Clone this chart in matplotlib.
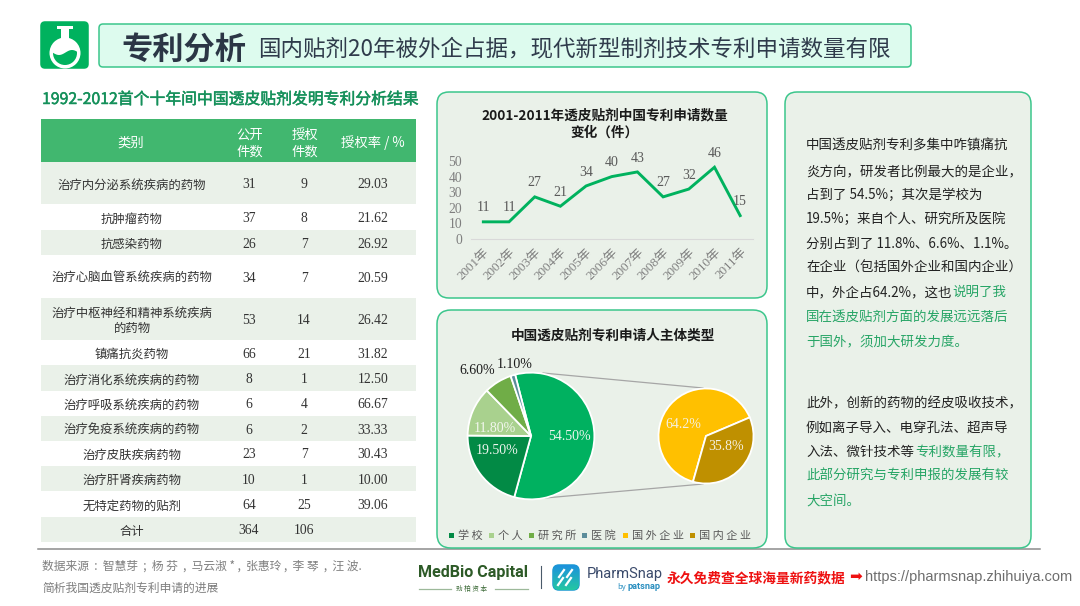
import matplotlib
matplotlib.use("Agg")
import numpy as np
import matplotlib.pyplot as plt
import matplotlib.patheffects as pe
from matplotlib.patches import FancyBboxPatch, Rectangle, Circle
from matplotlib.colors import LinearSegmentedColormap

plt.rcParams['font.family'] = ['Noto Sans CJK SC', 'DejaVu Sans']
SERIF = ['Liberation Serif', 'Noto Sans CJK SC']

# table data
categories = ["治疗内分泌系统疾病的药物", "抗肿瘤药物", "抗感染药物", "治疗心脑血管系统疾病的药物",
              "治疗中枢神经和精神系统疾病\n的药物", "镇痛抗炎药物", "治疗消化系统疾病的药物",
              "治疗呼吸系统疾病的药物", "治疗免疫系统疾病的药物", "治疗皮肤疾病药物",
              "治疗肝肾疾病药物", "无特定药物的贴剂", "合计"]
published = [31, 37, 26, 34, 53, 66, 8, 6, 6, 23, 10, 64, 364]
granted = [9, 8, 7, 7, 14, 21, 1, 4, 2, 7, 1, 25, 106]
grant_rate = ["29.03", "21.62", "26.92", "20.59", "26.42", "31.82", "12.50",
              "66.67", "33.33", "30.43", "10.00", "39.06", ""]

# line chart data
years = ["2001年", "2002年", "2003年", "2004年", "2005年", "2006年", "2007年",
         "2008年", "2009年", "2010年", "2011年"]
applications = [11, 11, 27, 21, 34, 40, 43, 27, 32, 46, 15]

# pie data
applicant_share = [54.5, 19.5, 11.8, 6.6, 1.1]
company_share = [64.2, 35.8]
legend_names = ["学校", "个人", "研究所", "医院", "国外企业", "国内企业"]

text_lines = ["中国透皮贴剂专利多集中咋镇痛抗", "炎方向，研发者比例最大的是企业，", "占到了 54.5%；其次是学校为",
              "19.5%；来自个人、研究所及医院", "分别占到了 11.8%、6.6%、1.1%。", "在企业（包括国外企业和国内企业）",
              "中，外企占64.2%，这也"]
text_green = ["说明了我", "国在透皮贴剂方面的发展远远落后", "于国外，须加大研发力度。"]
text2_lines = ["此外，创新的药物的经皮吸收技术，", "例如离子导入、电穿孔法、超声导", "入法、微针技术等"]
text2_green = ["专利数量有限，", "此部分研究与专利申报的发展有较", "大空间。"]

GREEN = "#00B25E"
BORDER = "#3CC68C"
PANEL = "#EAF1E9"
W, H = 1080, 606

fig = plt.figure(figsize=(W / 100, H / 100), dpi=100, facecolor="white")

# background axes in pixel coordinates
ax = fig.add_axes([0, 0, 1, 1])
ax.set_xlim(0, W)
ax.set_ylim(H, 0)
ax.axis("off")


def px_axes(x0, y0, x1, y1):
    a = fig.add_axes([x0 / W, 1 - y1 / H, (x1 - x0) / W, (y1 - y0) / H])
    a.patch.set_alpha(0)
    return a


def panel(x0, y0, x1, y1, r, face, edge=None, lw=1.1):
    p = FancyBboxPatch((x0 + r, y0 + r), x1 - x0 - 2 * r, y1 - y0 - 2 * r,
                       boxstyle=f"round,pad={r},rounding_size={r}",
                       fc=face, ec=edge if edge else face, lw=lw)
    ax.add_patch(p)
    return p


# header, flask icon
panel(41, 22, 88, 68, 4, GREEN)
panel(99, 24, 911, 67, 4, "#DDFBEE", BORDER)
ax.add_patch(Rectangle((61, 28), 8, 14, fc="white", ec="none"))
ax.add_patch(Rectangle((57, 26), 16, 3, fc="white", ec="none"))
ax.add_patch(Circle((65, 53), 15.5, fc="white", ec="none"))
liquid = Circle((65, 53), 12, fc="none", ec="none")
ax.add_patch(liquid)
wave_x = np.linspace(52, 78, 30)
wave_top = 52 + 2.5 * np.sin((wave_x - 52) / 26 * 2 * np.pi)
fill = ax.fill_between(wave_x, wave_top, 66, color=GREEN, lw=0)
fill.set_clip_path(liquid)
ax.text(121, 59.5, "专利分析", fontsize=22.5, fontweight="bold", color="#2B3645", va="baseline")
ax.text(258, 55, "国内贴剂20年被外企占据，现代新型制剂技术专利申请数量有限", fontsize=16.2,
        color="#2F3B4B", va="baseline")

# table
ax.text(42, 104, "1992-2012首个十年间中国透皮贴剂发明专利分析结果", fontsize=11.4, color="#14905A",
        va="baseline", path_effects=[pe.withStroke(linewidth=0.35, foreground="#14905A")])
ax.add_patch(Rectangle((41, 119), 375, 43, fc="#41B76F", ec="none"))
for x, label in [(131, "类别"), (250, "公开\n件数"), (304.5, "授权\n件数"), (373, "授权率 / %")]:
    ax.text(x, 143, label, color="white", fontsize=9.6, ha="center", va="center", linespacing=1.2)

row_edges = [162, 204, 230, 255, 298, 340, 365, 391, 416, 441, 466, 491, 517, 542]
for i, name in enumerate(categories):
    y0, y1 = row_edges[i], row_edges[i + 1]
    ym = (y0 + y1) / 2
    if i % 2 == 0:
        ax.add_patch(Rectangle((41, y0), 375, y1 - y0, fc=PANEL, ec="none"))
    ax.text(132, ym + 2, name, fontsize=8.9, color="#333333", ha="center", va="center", linespacing=1.2)
    ax.text(249, ym + 1.5, str(published[i]), fontsize=9.8, color="#333333", ha="center", va="center", family=SERIF)
    ax.text(304, ym + 1.5, str(granted[i]), fontsize=9.8, color="#333333", ha="center", va="center", family=SERIF)
    ax.text(373, ym + 1.5, grant_rate[i], fontsize=9.8, color="#333333", ha="center", va="center", family=SERIF)

# panels
panel(437, 92, 767, 298, 12, PANEL, BORDER)
panel(437, 310, 767, 548, 14, PANEL, BORDER)
panel(785, 92, 1031, 548, 12, PANEL, BORDER)
ax.plot([38, 1040], [549, 549], color="#8C8C8C", lw=1.1, zorder=0.5)

# line chart
ax.text(605, 119, "2001-2011年透皮贴剂中国专利申请数量", fontsize=9.8, fontweight="bold",
        color="#1A1A1A", ha="center", va="baseline")
ax.text(605, 137, "变化（件）", fontsize=9.8, fontweight="bold", color="#1A1A1A", ha="center", va="baseline")

lax = px_axes(470.5, 161, 753, 239)
xs = np.arange(len(years))
lax.plot(xs, applications, color=GREEN, lw=2.1, solid_joinstyle="miter", clip_on=False)
lax.set_xlim(-0.5, len(years) - 0.5)
lax.set_ylim(0, 50)
lax.set_yticks([0, 10, 20, 30, 40, 50])
lax.set_xticks(xs)
lax.set_xticklabels(years, rotation=45, ha="right", rotation_mode="anchor", family=SERIF,
                    fontsize=9.4, color="#7F7F7F")
lax.tick_params(axis="both", length=0)
lax.tick_params(axis="x", pad=5)
lax.tick_params(axis="y", pad=6)
for t in lax.get_yticklabels():
    t.set_family(SERIF)
    t.set_fontsize(9.8)
    t.set_color("#7F7F7F")
for s in ["top", "left", "right"]:
    lax.spines[s].set_visible(False)
lax.spines["bottom"].set_color("#D9D9D9")
lax.spines["bottom"].set_linewidth(0.8)
for x, v in zip(xs, applications):
    lax.annotate(str(v), (x, v), xytext=(0, 10), textcoords="offset points", ha="center", va="center",
                 family=SERIF, fontsize=10, color="#595959")

# pies
ax.text(613, 340, "中国透皮贴剂专利申请人主体类型", fontsize=9.8, fontweight="bold",
        color="#1A1A1A", ha="center", va="baseline")
ax.plot([543, 703], [373, 388], color="#A6A6A6", lw=0.9)
ax.plot([545, 703], [498, 484], color="#A6A6A6", lw=0.9)

pax = px_axes(531 - 64, 436 - 64, 531 + 64, 436 + 64)
pie_colors = ["#00B160", "#028A45", "#A9D18E", "#70AD47", "#5B8C9A"]
pax.pie(applicant_share, colors=pie_colors, startangle=104.5, counterclock=False, radius=1.0,
        wedgeprops=dict(edgecolor="white", linewidth=1.3))
pax.set_xlim(-1.01, 1.01)
pax.set_ylim(-1.01, 1.01)

p2ax = px_axes(706 - 48, 436 - 48, 706 + 48, 436 + 48)
p2ax.pie(company_share, colors=["#FFC000", "#BF9000"], startangle=23, radius=1.0,
         wedgeprops=dict(edgecolor="white", linewidth=1.3))
p2ax.set_xlim(-1.01, 1.01)
p2ax.set_ylim(-1.01, 1.01)

# labels go on a top layer so the pies do not cover them
top = fig.add_axes([0, 0, 1, 1], zorder=10)
top.set_xlim(0, W)
top.set_ylim(H, 0)
top.axis("off")
label_pos = [(569, 436), (497, 450), (495, 428), (477, 371), (515, 364)]
label_col = ["#EEF5EE", "#EEF5EE", "#F3F7EE", "#1A1A1A", "#1A1A1A"]
for v, (x, y), c in zip(applicant_share, label_pos, label_col):
    top.text(x, y, f"{v:.2f}%", family=SERIF, fontsize=10, color=c, ha="center", va="center")
for v, (x, y) in zip(company_share, [(683, 425), (726, 447)]):
    top.text(x, y, f"{v}%", family=SERIF, fontsize=10, color="#F5F0E0", ha="center", va="center")

legend_cols = ["#028A45", "#A9D18E", "#70AD47", "#5B8C9A", "#FFC000", "#BF9000"]
legend_x = [451, 491, 531, 584, 625, 692]
for name, c, x in zip(legend_names, legend_cols, legend_x):
    ax.add_patch(Rectangle((x - 2.5, 532.5), 5, 5, fc=c, ec="none"))
    ax.text(x + 7, 539, " ".join(name), fontsize=8, color="#595959", va="baseline")

# right text panel
ys1 = [149.5, 175, 199, 223, 248, 272, 296, 321, 345]
for y, line in zip(ys1, text_lines):
    ax.text(806, y, line, fontsize=9.7, color="#222222", va="baseline")
ax.text(952.5, ys1[6], text_green[0], fontsize=9.7, color="#27A566", va="baseline")
ax.text(806, ys1[7], text_green[1], fontsize=9.7, color="#27A566", va="baseline")
ax.text(806, ys1[8], text_green[2], fontsize=9.7, color="#27A566", va="baseline")

ys2 = [407, 432, 456, 480, 506]
for y, line in zip(ys2, text2_lines):
    ax.text(806, y, line, fontsize=9.7, color="#222222", va="baseline")
ax.text(915, ys2[2], text2_green[0], fontsize=9.7, color="#27A566", va="baseline")
ax.text(806, ys2[3], text2_green[1], fontsize=9.7, color="#27A566", va="baseline")
ax.text(806, ys2[4], text2_green[2], fontsize=9.7, color="#27A566", va="baseline")

# footer
ax.text(42, 570, "数据来源  :  智慧芽  ;  杨 芬  ,  马云淑 * ,  张惠玲 ,  李 琴  ,  汪 波.", fontsize=8.5,
        color="#7F7F7F", va="baseline")
ax.text(42, 592, "简析我国透皮贴剂专利申请的进展", fontsize=8.5, color="#7F7F7F", va="baseline")

ax.text(418, 577, "MedBio Capital", family=["Roboto", "DejaVu Sans"], fontsize=11.6, fontweight="bold",
        color="#2D5A27", va="baseline")
ax.plot([419, 451], [589, 589], color="#9DB99A", lw=0.9)
ax.plot([495, 528], [589, 589], color="#9DB99A", lw=0.9)
ax.text(472, 589, "劲 柏 资 本", fontsize=4.8, color="#3D6B38", ha="center", va="center")
ax.plot([541, 541], [566, 588], color="#4A5A6A", lw=0.8)

# PharmSnap logo, a rounded square with a blue to green fade
badge = panel(553, 565, 579, 590, 6, "#1E9BD0")
fade = LinearSegmentedColormap.from_list("fade", ["#1C8FE0", "#25C9A0"])
im = ax.imshow(np.linspace(0, 1, 50).reshape(-1, 1), extent=(551, 581, 591, 564), cmap=fade,
               aspect="auto", zorder=2)
im.set_clip_path(badge)
ax.set_xlim(0, W)
ax.set_ylim(H, 0)
for dx in (0, 8):
    ax.plot([559 + dx, 564 + dx], [577, 570], color="white", lw=1.6, zorder=3)
    ax.plot([558 + dx, 563 + dx], [585, 578], color="white", lw=1.6, zorder=3)
ax.text(587, 578, "PharmSnap", family=["Roboto", "DejaVu Sans"], fontsize=10.5, color="#3A4A6B", va="baseline")
ax.text(617, 589, "by", fontsize=5.5, color="#2A8FC0", va="baseline")
ax.text(627, 589, "patsnap", family=["Roboto", "DejaVu Sans"], fontsize=6.6, fontweight="bold",
        color="#2A8FC0", va="baseline")

ax.text(667, 582, "永久免费查全球海量新药数据", fontsize=9.9, fontweight="bold", color="#EE1111", va="baseline")
ax.text(849, 581, "➡", family=["DejaVu Sans"], fontsize=11, color="#EE1111", va="baseline")
ax.text(865, 581, "https://pharmsnap.zhihuiya.com", family=["Liberation Sans", "DejaVu Sans"],
        fontsize=10.5, color="#6E6E6E", va="baseline")

fig.savefig("out.png", dpi=100)
